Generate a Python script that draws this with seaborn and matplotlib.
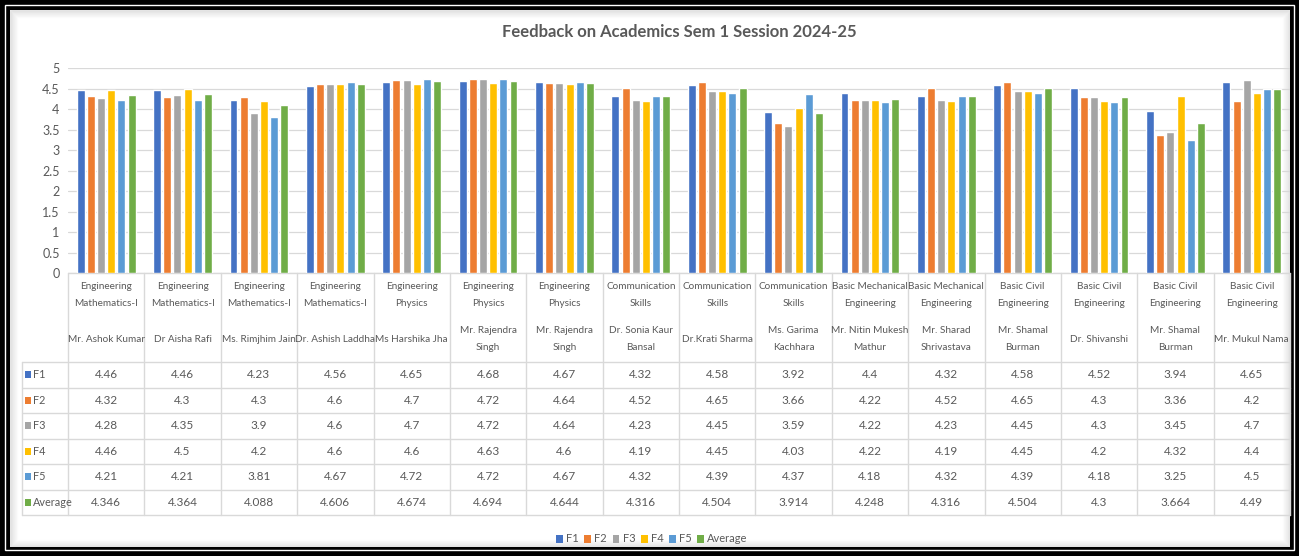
import numpy as np
import pandas as pd
import matplotlib
matplotlib.use("Agg")
import matplotlib.pyplot as plt
import matplotlib.transforms as mtransforms
from matplotlib.patches import Rectangle, Patch
import seaborn as sns

subjects = [
    "Engineering\nMathematics-I", "Engineering\nMathematics-I",
    "Engineering\nMathematics-I", "Engineering\nMathematics-I",
    "Engineering\nPhysics", "Engineering\nPhysics", "Engineering\nPhysics",
    "Communication\nSkills", "Communication\nSkills", "Communication\nSkills",
    "Basic Mechanical\nEngineering", "Basic Mechanical\nEngineering",
    "Basic Civil\nEngineering", "Basic Civil\nEngineering",
    "Basic Civil\nEngineering", "Basic Civil\nEngineering",
]
teachers = [
    "Mr. Ashok Kumar", "Dr Aisha Rafi", "Ms. Rimjhim Jain", "Dr. Ashish Laddha",
    "Ms Harshika Jha", "Mr. Rajendra\nSingh", "Mr. Rajendra\nSingh",
    "Dr. Sonia Kaur\nBansal", "Dr.Krati Sharma", "Ms. Garima\nKachhara",
    "Mr. Nitin Mukesh\nMathur", "Mr. Sharad\nShrivastava", "Mr. Shamal\nBurman",
    "Dr. Shivanshi", "Mr. Shamal\nBurman", "Mr. Mukul Nama",
]
series = ["F1", "F2", "F3", "F4", "F5", "Average"]
f1 = [4.46, 4.46, 4.23, 4.56, 4.65, 4.68, 4.67, 4.32, 4.58, 3.92, 4.4, 4.32, 4.58, 4.52, 3.94, 4.65]
f2 = [4.32, 4.3, 4.3, 4.6, 4.7, 4.72, 4.64, 4.52, 4.65, 3.66, 4.22, 4.52, 4.65, 4.3, 3.36, 4.2]
f3 = [4.28, 4.35, 3.9, 4.6, 4.7, 4.72, 4.64, 4.23, 4.45, 3.59, 4.22, 4.23, 4.45, 4.3, 3.45, 4.7]
f4 = [4.46, 4.5, 4.2, 4.6, 4.6, 4.63, 4.6, 4.19, 4.45, 4.03, 4.22, 4.19, 4.45, 4.2, 4.32, 4.4]
f5 = [4.21, 4.21, 3.81, 4.67, 4.72, 4.72, 4.67, 4.32, 4.39, 4.37, 4.18, 4.32, 4.39, 4.18, 3.25, 4.5]
average = [4.346, 4.364, 4.088, 4.606, 4.674, 4.694, 4.644, 4.316, 4.504, 3.914, 4.248, 4.316, 4.504, 4.3, 3.664, 4.49]
yticks = [0, 0.5, 1, 1.5, 2, 2.5, 3, 3.5, 4, 4.5, 5]

colors = ["#4472C4", "#ED7D31", "#A5A5A5", "#FFC000", "#5B9BD5", "#70AD47"]
txt = "#595959"
grid = "#D9D9D9"

values = [f1, f2, f3, f4, f5, average]
df = pd.DataFrame(
    [(i, s, v) for s, vals in zip(series, values) for i, v in enumerate(vals)],
    columns=["col", "series", "score"],
)

sns.set_style("white")
plt.rcParams["font.family"] = ["Lato", "DejaVu Sans"]

W, H = 1299, 556
fig = plt.figure(figsize=(W / 100, H / 100), dpi=100)
fig.patch.set_facecolor("black")

# overlay in pixel coordinates for the frame and the table
ov = fig.add_axes([0, 0, 1, 1], zorder=0)
ov.set_xlim(0, W)
ov.set_ylim(H, 0)
ov.axis("off")
ov.add_patch(Rectangle((5, 5), W - 10, H - 11, fill=False, ec="white", lw=1))
ov.add_patch(Rectangle((10, 10), 1280, 537, fc="white", ec="none"))
for k in range(8):
    ov.add_patch(Rectangle((10 + k, 10 + k), 1280 - 2 * k, 537 - 2 * k,
                           fill=False, ec="black", lw=1, alpha=0.09 * (8 - k) / 8))

left, right, top, bottom = 68, 1290, 68, 273
ax = fig.add_axes([left / W, 1 - bottom / H, (right - left) / W, (bottom - top) / H], zorder=1)
ax.patch.set_alpha(0)
sns.barplot(data=df, x="col", y="score", hue="series", hue_order=series,
            palette=colors, saturation=1, errorbar=None, width=0.8, gap=0.22,
            legend=False, ax=ax)
ax.set_xlim(-0.5, 15.5)
ax.set_ylim(0, 5)
ax.set_yticks(yticks)
ax.set_yticklabels([f"{t:g}" for t in yticks], color=txt, fontsize=9)
ax.tick_params(axis="y", length=0, pad=6)
ax.set_xticks([])
ax.set_xlabel("")
ax.set_ylabel("")
ax.grid(axis="y", color=grid, lw=0.9)
ax.set_axisbelow(True)
for sp in ax.spines.values():
    sp.set_visible(False)

ax.set_title("Feedback on Academics Sem 1 Session 2024-25", color=txt,
             fontsize=12, fontweight="bold", pad=22)

# data table under the axis
tr = mtransforms.blended_transform_factory(ax.transData, ov.transData)
row_top = 362
row_h = 25.5
n = len(f1)
ov.plot([-0.5, n - 0.5], [bottom, bottom], color=grid, lw=1, transform=tr)
for j in range(len(series) + 1):
    y = row_top + j * row_h
    ov.plot([22, right], [y, y], color=grid, lw=1)
for i in range(n + 1):
    ov.plot([i - 0.5, i - 0.5], [bottom, row_top + 6 * row_h], color=grid, lw=1, transform=tr)
ov.plot([22, 22], [row_top, row_top + 6 * row_h], color=grid, lw=1)

for i in range(n):
    ov.text(i, 295, subjects[i], transform=tr, ha="center", va="center",
            fontsize=7.2, color=txt, linespacing=2.15)
    ov.text(i, 339, teachers[i], transform=tr, ha="center", va="center",
            fontsize=7.2, color=txt, linespacing=2.05)

for j, (s, vals) in enumerate(zip(series, values)):
    yc = row_top + (j + 0.5) * row_h
    ov.add_patch(Rectangle((25, yc - 3.5), 6, 7, fc=colors[j], ec="none"))
    ov.text(33, yc, s, ha="left", va="center", fontsize=7.8, color=txt)
    for i, v in enumerate(vals):
        ov.text(i, yc, f"{v:g}", transform=tr, ha="center", va="center",
                fontsize=8.5, color=txt)

handles = [Patch(fc=c, ec="none", label=s) for c, s in zip(colors, series)]
fig.legend(handles=handles, loc="center", bbox_to_anchor=(652 / W, 1 - 539 / H),
           ncol=6, frameon=False, fontsize=8, handlelength=0.6, handleheight=0.7,
           handletextpad=0.3, columnspacing=0.5, labelcolor=txt)

fig.savefig("out.png", dpi=100, facecolor=fig.get_facecolor())
